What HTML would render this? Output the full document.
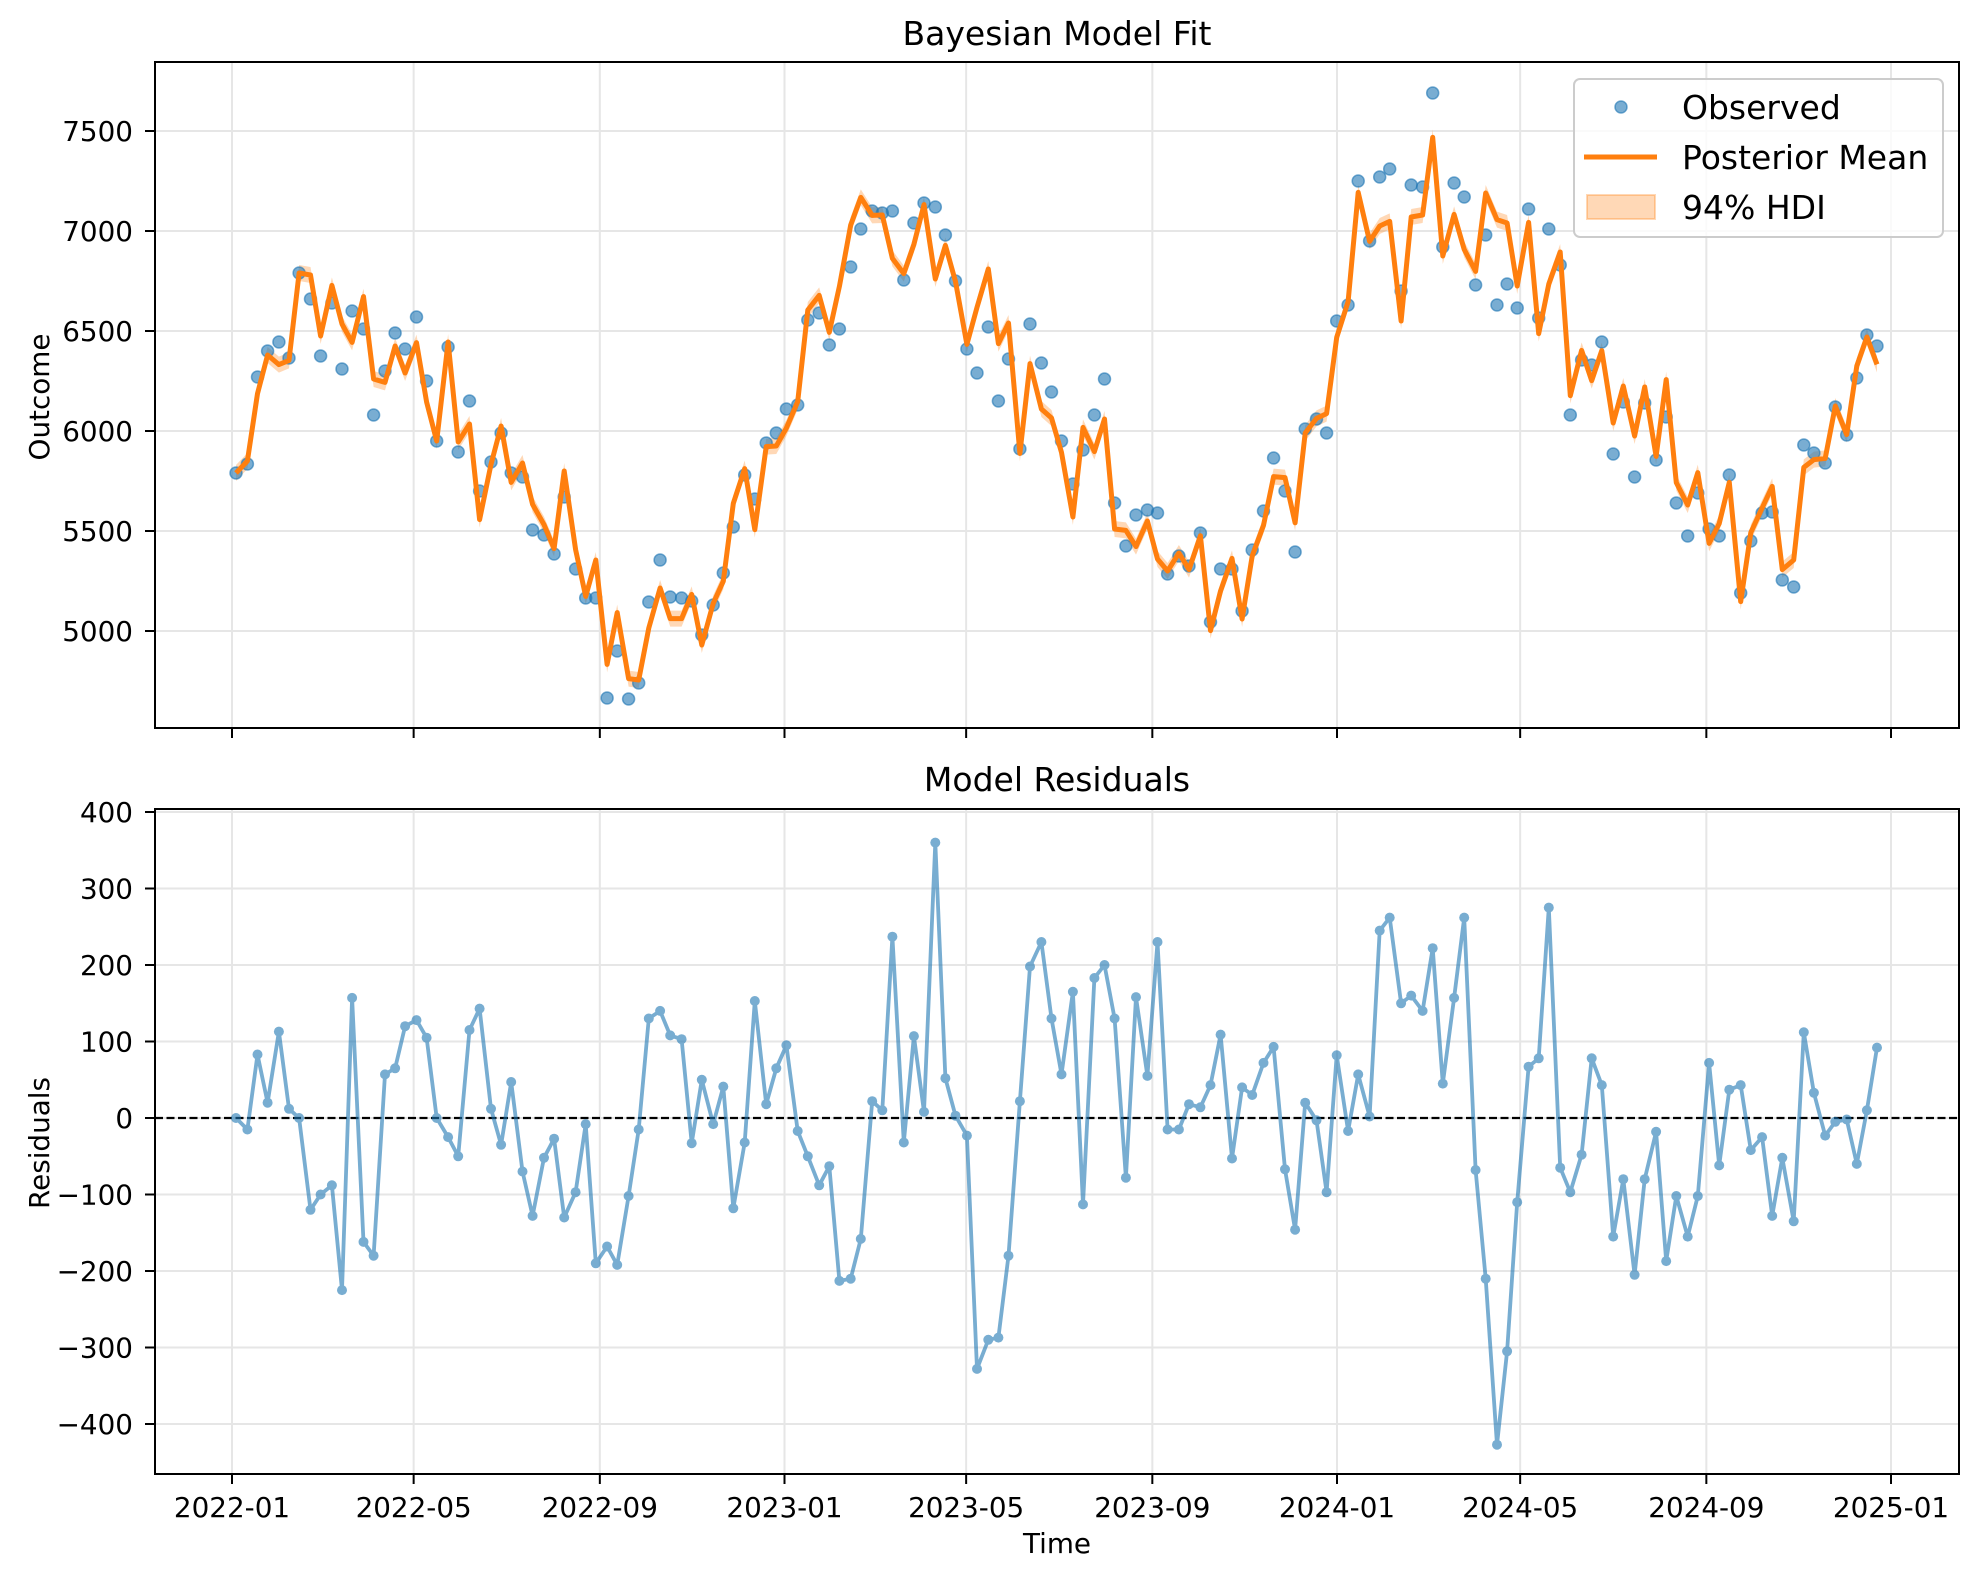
<!DOCTYPE html>
<html><head><meta charset="utf-8"><style>html,body{margin:0;padding:0;background:#fff}svg{display:block}text{font-family:"DejaVu Sans","Liberation Sans",sans-serif;fill:#000}</style></head>
<body>
<svg id="s" width="1979" height="1582" viewBox="0 0 1979 1582" xmlns="http://www.w3.org/2000/svg">
<rect width="1979" height="1582" fill="#fff"/>
<g id="g"></g>
<text x="1057" y="45" font-size="33" text-anchor="middle">Bayesian Model Fit</text>
<text x="1057" y="791" font-size="33" text-anchor="middle">Model Residuals</text>
<text x="1057" y="1553" font-size="27.8" text-anchor="middle">Time</text>
<text transform="translate(49,397) rotate(-90)" font-size="27.8" text-anchor="middle">Outcome</text>
<text transform="translate(49,1143) rotate(-90)" font-size="27.8" text-anchor="middle">Residuals</text>
</svg>
<script>
var D=[[187,5790,0],[196,5835,-15],[204,6270,83],[212,6400,20],[221,6445,113],[229,6365,12],[237,6790,0],[246,6660,-120],[254,6375,-100],[263,6640,-88],[271,6310,-225],[279,6600,157],[288,6510,-162],[296,6080,-180],[305,6300,57],[313,6490,65],[321,6410,120],[330,6570,128],[338,6250,105],[346,5950,0],[355,6420,-25],[363,5895,-50],[372,6150,115],[380,5700,143],[389,5845,12],[397,5990,-35],[405,5790,47],[414,5770,-70],[422,5505,-128],[431,5480,-52],[439,5385,-27],[447,5670,-130],[456,5310,-97],[464,5165,-8],[472,5165,-190],[481,4665,-168],[489,4900,-192],[498,4660,-102],[506,4740,-15],[514,5145,130],[523,5355,140],[531,5170,108],[540,5165,103],[548,5150,-33],[556,4980,50],[565,5130,-8],[573,5290,41],[581,5520,-118],[590,5780,-32],[598,5660,153],[607,5940,18],[615,5990,65],[623,6110,95],[632,6130,-17],[640,6555,-50],[649,6590,-88],[657,6430,-63],[665,6510,-213],[674,6820,-210],[682,7010,-158],[691,7100,22],[699,7090,10],[707,7100,237],[716,6755,-32],[724,7040,107],[732,7140,8],[741,7120,360],[749,6980,52],[757,6750,3],[766,6410,-23],[774,6290,-328],[783,6520,-290],[791,6150,-287],[799,6360,-180],[808,5910,22],[816,6535,198],[825,6340,230],[833,6195,130],[841,5950,57],[850,5735,165],[858,5905,-113],[867,6080,183],[875,6260,200],[883,5640,130],[892,5425,-78],[900,5580,158],[909,5605,55],[917,5590,230],[925,5285,-15],[934,5375,-15],[942,5325,18],[951,5490,14],[959,5045,43],[967,5310,109],[976,5310,-53],[984,5100,40],[992,5405,30],[1001,5600,72],[1009,5865,93],[1018,5700,-67],[1026,5395,-146],[1034,6010,20],[1043,6060,-3],[1051,5990,-97],[1059,6550,82],[1068,6630,-17],[1076,7250,57],[1085,6950,2],[1093,7270,245],[1101,7310,262],[1110,6700,150],[1118,7230,160],[1127,7220,140],[1135,7690,222],[1143,6920,45],[1152,7240,157],[1160,7170,262],[1169,6730,-68],[1177,6980,-210],[1186,6630,-427],[1194,6735,-305],[1202,6615,-110],[1211,7110,67],[1219,6565,78],[1227,7010,275],[1236,6830,-65],[1244,6080,-97],[1253,6355,-48],[1261,6330,78],[1269,6445,43],[1278,5885,-155],[1286,6145,-80],[1295,5770,-205],[1303,6140,-80],[1312,5855,-18],[1320,6070,-187],[1328,5640,-102],[1337,5475,-155],[1345,5690,-102],[1354,5510,72],[1362,5475,-62],[1370,5780,37],[1379,5190,43],[1387,5450,-42],[1396,5590,-25],[1404,5595,-128],[1412,5255,-52],[1421,5220,-135],[1429,5930,112],[1437,5890,33],[1446,5840,-23],[1454,6120,-5],[1463,5980,-2],[1471,6265,-60],[1479,6480,10],[1487,6425,92]];
var L=155,R=1959,T1=62,B1=728,T2=809,B2=1474;
function X(xd){return 236+(xd-187)*(1877-236)/(1487-187);}
function Y1(v){return 631-(v-5000)*0.2;}
function Y2(r){return 1118-r*0.765;}
var h='';
var ticks=[[0,'2022-01'],[120,'2022-05'],[243,'2022-09'],[365,'2023-01'],[485,'2023-05'],[608,'2023-09'],[730,'2024-01'],[851,'2024-05'],[974,'2024-09'],[1096,'2025-01']];
var G='stroke="#e6e6e6" stroke-width="2"';
ticks.forEach(function(t){var x=232+t[0]*1.5137;
 h+='<line x1="'+x+'" y1="'+T1+'" x2="'+x+'" y2="'+B1+'" '+G+'/>';
 h+='<line x1="'+x+'" y1="'+T2+'" x2="'+x+'" y2="'+B2+'" '+G+'/>';
 h+='<line x1="'+x+'" y1="'+B1+'" x2="'+x+'" y2="'+(B1+10)+'" stroke="#000" stroke-width="2"/>';
 h+='<line x1="'+x+'" y1="'+B2+'" x2="'+x+'" y2="'+(B2+10)+'" stroke="#000" stroke-width="2"/>';
 h+='<text x="'+x+'" y="1517" font-size="27.8" text-anchor="middle">'+t[1]+'</text>';});
[5000,5500,6000,6500,7000,7500].forEach(function(v){var y=Y1(v);
 h+='<line x1="'+L+'" y1="'+y+'" x2="'+R+'" y2="'+y+'" '+G+'/>';
 h+='<line x1="'+(L-10)+'" y1="'+y+'" x2="'+L+'" y2="'+y+'" stroke="#000" stroke-width="2"/>';
 h+='<text x="133" y="'+(y+10)+'" font-size="27.8" text-anchor="end">'+v+'</text>';});
[-400,-300,-200,-100,0,100,200,300,400].forEach(function(v){var y=Y2(v);
 h+='<line x1="'+L+'" y1="'+y+'" x2="'+R+'" y2="'+y+'" '+G+'/>';
 h+='<line x1="'+(L-10)+'" y1="'+y+'" x2="'+L+'" y2="'+y+'" stroke="#000" stroke-width="2"/>';
 h+='<text x="133" y="'+(y+10)+'" font-size="27.8" text-anchor="end">'+(v<0?'\u2212'+(-v):v)+'</text>';});
var up=[],dn=[],ln=[];
D.forEach(function(d){var m=d[1]-d[2],x=X(d[0]);up.push(x.toFixed(1)+','+Y1(m+40).toFixed(1));dn.unshift(x.toFixed(1)+','+Y1(m-40).toFixed(1));ln.push(x.toFixed(1)+','+Y1(m).toFixed(1));});
h+='<polygon points="'+up.join(' ')+' '+dn.join(' ')+'" fill="#ff7f0e" fill-opacity="0.3"/>';
D.forEach(function(d){h+='<circle cx="'+X(d[0]).toFixed(1)+'" cy="'+Y1(d[1]).toFixed(1)+'" r="6" fill="#1f77b4" fill-opacity="0.6" stroke="#1f77b4" stroke-opacity="0.6" stroke-width="1.5"/>';});
h+='<polyline points="'+ln.join(' ')+'" fill="none" stroke="#ff7f0e" stroke-width="5" stroke-linejoin="round"/>';
h+='<line x1="'+L+'" y1="'+Y2(0)+'" x2="'+R+'" y2="'+Y2(0)+'" stroke="#000" stroke-width="2.2" stroke-dasharray="8,3.5"/>';
var rp=D.map(function(d){return X(d[0]).toFixed(1)+','+Y2(d[2]).toFixed(1);});
h+='<g opacity="0.6"><polyline points="'+rp.join(' ')+'" fill="none" stroke="#1f77b4" stroke-width="3.8" stroke-linejoin="round"/>';
D.forEach(function(d){h+='<circle cx="'+X(d[0]).toFixed(1)+'" cy="'+Y2(d[2]).toFixed(1)+'" r="5" fill="#1f77b4"/>';});
h+='</g>';
h+='<rect x="'+L+'" y="'+T1+'" width="'+(R-L)+'" height="'+(B1-T1)+'" fill="none" stroke="#000" stroke-width="2"/>';
h+='<rect x="'+L+'" y="'+T2+'" width="'+(R-L)+'" height="'+(B2-T2)+'" fill="none" stroke="#000" stroke-width="2"/>';
h+='<rect x="1574" y="79" width="369" height="158" rx="6" fill="#fff" fill-opacity="0.8" stroke="#cccccc" stroke-width="2"/>';
h+='<circle cx="1621" cy="107" r="6" fill="#1f77b4" fill-opacity="0.6" stroke="#1f77b4" stroke-opacity="0.6" stroke-width="1.5"/>';
h+='<text x="1682" y="119" font-size="33">Observed</text>';
h+='<line x1="1584" y1="157" x2="1657" y2="157" stroke="#ff7f0e" stroke-width="5"/>';
h+='<text x="1682" y="169" font-size="33">Posterior Mean</text>';
h+='<rect x="1587" y="195" width="68" height="24" fill="#ff7f0e" fill-opacity="0.3" stroke="#ff7f0e" stroke-opacity="0.3" stroke-width="2"/>';
h+='<text x="1682" y="219" font-size="33">94% HDI</text>';
document.getElementById('g').innerHTML=h;
</script>
</body></html>
